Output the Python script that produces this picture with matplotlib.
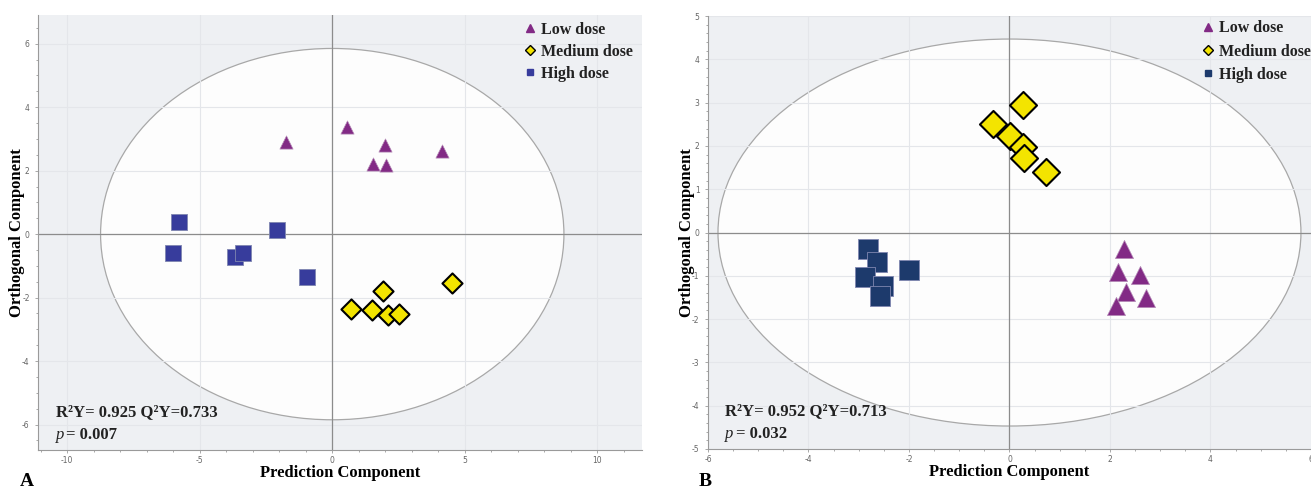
import numpy as np
import matplotlib
matplotlib.use("Agg")
import matplotlib.pyplot as plt
from matplotlib.patches import Ellipse
from matplotlib.lines import Line2D

plt.rcParams["axes.unicode_minus"] = False

groups = ["Low dose", "Medium dose", "High dose"]

# Panel A scores (prediction, orthogonal)
a_low_x = [-1.76, 0.57, 1.98, 1.55, 2.01, 4.15]
a_low_y = [2.89, 3.37, 2.82, 2.21, 2.18, 2.63]
a_med_x = [0.69, 1.50, 1.93, 2.12, 2.52, 4.50]
a_med_y = [-2.37, -2.40, -1.79, -2.55, -2.51, -1.54]
a_high_x = [-5.78, -5.99, -3.67, -3.35, -2.07, -0.96]
a_high_y = [0.37, -0.58, -0.71, -0.58, 0.14, -1.35]

# Panel B scores
b_low_x = [2.27, 2.16, 2.60, 2.31, 2.71, 2.11]
b_low_y = [-0.37, -0.91, -0.97, -1.38, -1.51, -1.70]
b_med_x = [0.27, -0.33, 0.02, 0.27, 0.29, 0.72]
b_med_y = [2.94, 2.50, 2.22, 1.98, 1.72, 1.40]
b_high_x = [-2.82, -2.64, -1.99, -2.87, -2.51, -2.58]
b_high_y = [-0.37, -0.69, -0.87, -1.02, -1.23, -1.47]

a_stats = ("R\u00b2Y= 0.925 Q\u00b2Y=0.733", "0.007")
b_stats = ("R\u00b2Y= 0.952 Q\u00b2Y=0.713", "0.032")

serif = "Liberation Serif"
purple = "#822a85"
yellow = "#f3e400"


def draw_panel(ax, low, med, high, high_color, ell, xlim, ylim, xmaj, ymaj,
               sizes, stats, legend_pos, spacing):
    ax.set_facecolor("#eef0f3")
    ax.set_xlim(*xlim)
    ax.set_ylim(*ylim)
    ax.set_xticks(xmaj)
    ax.set_yticks(ymaj)
    ax.grid(True, color="#e4e6ea", lw=0.8, zorder=0)
    ax.add_patch(Ellipse((0, 0), 2 * ell[0], 2 * ell[1], facecolor="#fdfdfd",
                         edgecolor="#a8a8a8", lw=0.9, zorder=1))
    ax.axhline(0, color="#8c8c8c", lw=0.9, zorder=2)
    ax.axvline(0, color="#8c8c8c", lw=0.9, zorder=2)
    ts, ds, ss = sizes
    ax.scatter(*low, marker="^", s=ts, color=purple, edgecolor="#b48ab6",
               lw=0.5, zorder=4)
    ax.scatter(*high, marker="s", s=ss, color=high_color, edgecolor="#7f86b0",
               lw=0.6, zorder=4)
    ax.scatter(*med, marker="D", s=ds, color=yellow, edgecolor="black",
               lw=1.5, zorder=5)
    for s in ["top", "right"]:
        ax.spines[s].set_visible(False)
    for s in ["left", "bottom"]:
        ax.spines[s].set_color("#9a9a9a")
        ax.spines[s].set_linewidth(0.8)
    ax.minorticks_on()
    ax.tick_params(which="both", colors="#9a9a9a", labelcolor="#666666",
                   labelsize=5.5, length=2.5, width=0.6)
    ax.tick_params(which="minor", length=1.5)
    ax.tick_params(axis="x", pad=2)
    ax.set_xlabel("Prediction Component", family=serif, fontweight="bold",
                  fontsize=12)
    ax.set_ylabel("Orthogonal Component", family=serif, fontweight="bold",
                  fontsize=12)
    ax.xaxis.set_label_coords(0.5, -0.035)
    ax.yaxis.set_label_coords(-0.022, 0.5)
    ax.text(0.029, 0.078, stats[0], transform=ax.transAxes, family=serif,
            fontweight="bold", fontsize=12, color="#222222")
    ax.text(0.029, 0.025, "p", transform=ax.transAxes, family=serif,
            style="italic", fontsize=12, color="#222222")
    ax.text(0.047, 0.025, "= " + stats[1], transform=ax.transAxes,
            family=serif, fontweight="bold", fontsize=12, color="#222222")
    handles = [
        Line2D([], [], ls="", marker="^", color=purple, ms=6),
        Line2D([], [], ls="", marker="D", color=yellow, mec="black", mew=1.0, ms=5),
        Line2D([], [], ls="", marker="s", color=high_color, ms=5),
    ]
    leg = ax.legend(handles, groups, loc="upper left", bbox_to_anchor=legend_pos,
                    frameon=False, handlelength=0.6, handletextpad=0.4,
                    labelspacing=spacing, borderaxespad=0,
                    prop={"family": serif, "weight": "bold", "size": 11.5})
    for t in leg.get_texts():
        t.set_color("#222222")


fig = plt.figure(figsize=(13.11, 4.88), dpi=100)
fig.patch.set_facecolor("white")
axA = fig.add_axes([0.029, 0.078, 0.461, 0.891])
axB = fig.add_axes([0.540, 0.080, 0.460, 0.887])

draw_panel(axA, (a_low_x, a_low_y), (a_med_x, a_med_y), (a_high_x, a_high_y),
           "#373c9c", (8.74, 5.85), (-11.1, 11.7), (-6.8, 6.9),
           [-10, -5, 0, 5, 10], [-6, -4, -2, 0, 2, 4, 6],
           (90, 105, 125), a_stats, (0.795, 1.0), 0.38)
draw_panel(axB, (b_low_x, b_low_y), (b_med_x, b_med_y), (b_high_x, b_high_y),
           "#1d3a6c", (5.80, 4.47), (-6, 6), (-5, 5),
           [-6, -4, -2, 0, 2, 4, 6], [-5, -4, -3, -2, -1, 0, 1, 2, 3, 4, 5],
           (170, 190, 220), b_stats, (0.81, 1.005), 0.45)

fig.text(0.015, 0.005, "A", family=serif, fontweight="bold", fontsize=14)
fig.text(0.533, 0.005, "B", family=serif, fontweight="bold", fontsize=14)

fig.savefig("out.png", dpi=100)
